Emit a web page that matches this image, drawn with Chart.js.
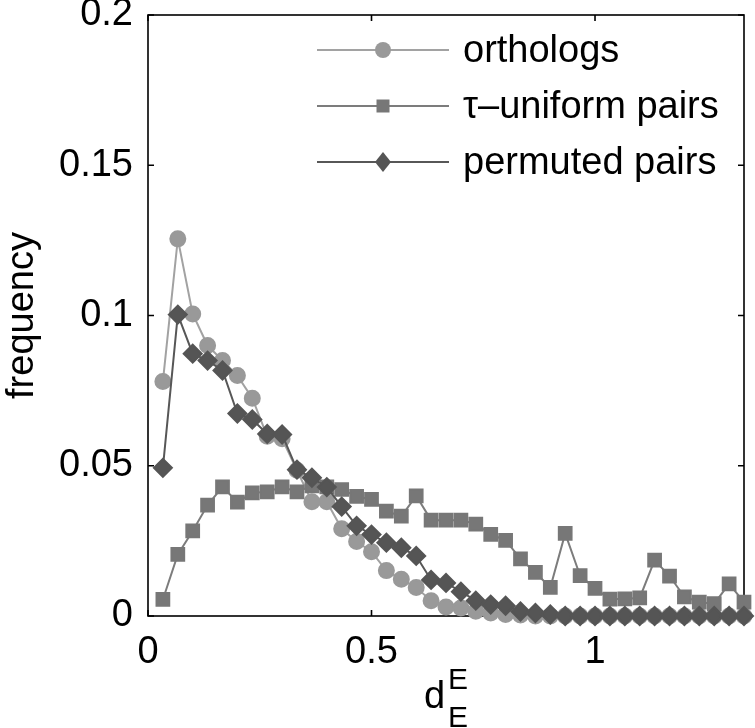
<!DOCTYPE html>
<html>
<head>
<meta charset="utf-8">
<script src="https://cdn.jsdelivr.net/npm/chart.js@4.4.1/dist/chart.umd.min.js"></script>
<style>
  html, body { margin: 0; padding: 0; background: #fff; }
  #wrap { width: 755px; height: 728px; }
</style>
</head>
<body>
<div id="wrap"><canvas id="distChart" width="755" height="728"></canvas></div>
<script>
// bin centres of d_E^E histogram
var binCenters = [0.0333, 0.0667, 0.1, 0.1333, 0.1667, 0.2, 0.2333, 0.2667, 0.3, 0.3333,
    0.3667, 0.4, 0.4333, 0.4667, 0.5, 0.5333, 0.5667, 0.6, 0.6333, 0.6667,
    0.7, 0.7333, 0.7667, 0.8, 0.8333, 0.8667, 0.9, 0.9333, 0.9667, 1.0,
    1.0333, 1.0667, 1.1, 1.1333, 1.1667, 1.2, 1.2333, 1.2667, 1.3, 1.3333];

var orthologs = [0.078, 0.1255, 0.1005, 0.090, 0.085, 0.080, 0.0725, 0.0598, 0.059, 0.0485,
    0.038, 0.038, 0.029, 0.0248, 0.0214, 0.0151, 0.0122, 0.0095, 0.0051, 0.003,
    0.0027, 0.0016, 0.001, 0.0005, 0.0003, 0, 0, 0, 0, 0,
    0, 0, 0, 0, 0, 0, 0, 0, 0, 0];

var tauUniform = [0.0055, 0.0205, 0.0283, 0.0369, 0.043, 0.0379, 0.041, 0.0413, 0.043, 0.0413,
    0.0433, 0.043, 0.0421, 0.0398, 0.0388, 0.0349, 0.0332, 0.040, 0.0319, 0.0319,
    0.0319, 0.0306, 0.0272, 0.0252, 0.019, 0.0145, 0.0095, 0.0275, 0.0134, 0.0092,
    0.0056, 0.0057, 0.006, 0.0186, 0.0133, 0.0064, 0.0046, 0.0041, 0.0107, 0.0046];

var permuted = [0.0493, 0.1003, 0.0873, 0.085, 0.0817, 0.0674, 0.0654, 0.0606, 0.0604, 0.0487,
    0.046, 0.0429, 0.0364, 0.030, 0.0271, 0.0244, 0.0227, 0.020, 0.012, 0.011,
    0.0081, 0.0051, 0.0038, 0.0034, 0.0015, 0.001, 0.0005, 0, 0, 0,
    0, 0, 0, 0, 0, 0, 0, 0, 0, 0];

var seriesNames = ["orthologs", "\u03c4\u2013uniform pairs", "permuted pairs"];
var xTicks = [0, 0.5, 1];
var yTicks = [0, 0.05, 0.1, 0.15, 0.2];

var FONT = "'Liberation Sans', Arial, Helvetica, sans-serif";

function pts(vals) {
    return vals.map(function (v, i) { return { x: binCenters[i], y: v }; });
}

// box, inward ticks on all four sides (matlab look)
var axesBox = {
    id: 'axesBox',
    beforeDatasetsDraw: function (chart) {
        var ctx = chart.ctx, a = chart.chartArea;
        var xs = chart.scales.x, ys = chart.scales.y;
        ctx.save();
        ctx.strokeStyle = '#000';
        ctx.lineWidth = 1.6;
        ctx.strokeRect(a.left, a.top, a.right - a.left, a.bottom - a.top);
        ctx.beginPath();
        xTicks.forEach(function (v) {
            var px = xs.getPixelForValue(v);
            ctx.moveTo(px, a.bottom); ctx.lineTo(px, a.bottom - 6);
            ctx.moveTo(px, a.top); ctx.lineTo(px, a.top + 6);
        });
        yTicks.forEach(function (v) {
            var py = ys.getPixelForValue(v);
            ctx.moveTo(a.left, py); ctx.lineTo(a.left + 6, py);
            ctx.moveTo(a.right, py); ctx.lineTo(a.right - 6, py);
        });
        ctx.stroke();
        ctx.restore();
    },
    afterDraw: function (chart) {
        var ctx = chart.ctx, a = chart.chartArea;
        ctx.save();
        // legend, inside the axes, no frame
        chart.data.datasets.forEach(function (ds, i) {
            var y = a.top + 35 + i * 56;
            var x0 = a.left + 169, x1 = a.left + 301, mx = a.left + 235;
            ctx.strokeStyle = ds.borderColor;
            ctx.lineWidth = ds.borderWidth;
            ctx.beginPath(); ctx.moveTo(x0, y); ctx.lineTo(x1, y); ctx.stroke();
            ctx.fillStyle = ds.pointBackgroundColor;
            ctx.beginPath();
            if (ds.pointStyle === 'circle') {
                ctx.arc(mx, y, 8, 0, Math.PI * 2);
            } else if (ds.pointStyle === 'rect') {
                ctx.rect(mx - 6.5, y - 6.5, 13, 13);
            } else {
                ctx.moveTo(mx, y - 10); ctx.lineTo(mx + 8, y);
                ctx.lineTo(mx, y + 10); ctx.lineTo(mx - 8, y);
                ctx.closePath();
            }
            ctx.fill();
            ctx.fillStyle = '#000';
            ctx.font = '38px ' + FONT;
            ctx.textAlign = 'left';
            ctx.textBaseline = 'middle';
            ctx.fillText(ds.label, a.left + 315, y + 2);
        });
        // x axis title d_E^E
        ctx.fillStyle = '#000';
        ctx.textAlign = 'left';
        ctx.textBaseline = 'alphabetic';
        ctx.font = '38px ' + FONT;
        ctx.fillText('d', 424, 708);
        ctx.font = '30px ' + FONT;
        ctx.fillText('E', 448, 689);
        ctx.fillText('E', 448, 727);
        ctx.restore();
    }
};

new Chart(document.getElementById("distChart"), {
    type: "line",
    data: {
        datasets: [{
            label: seriesNames[0],
            data: pts(orthologs),
            borderColor: "#a2a2a2",
            backgroundColor: "#999999",
            pointBackgroundColor: "#999999",
            pointBorderColor: "#999999",
            pointStyle: "circle",
            pointRadius: 7.5,
            borderWidth: 2,
            order: 2,
            clip: false
        }, {
            label: seriesNames[1],
            data: pts(tauUniform),
            borderColor: "#7c7c7c",
            backgroundColor: "#777777",
            pointBackgroundColor: "#777777",
            pointBorderColor: "#777777",
            pointStyle: "rect",
            pointRadius: 9,
            borderWidth: 2,
            order: 1,
            clip: false
        }, {
            label: seriesNames[2],
            data: pts(permuted),
            borderColor: "#575757",
            backgroundColor: "#555555",
            pointBackgroundColor: "#555555",
            pointBorderColor: "#555555",
            pointStyle: "rectRot",
            pointRadius: 9,
            borderWidth: 2,
            order: 0,
            clip: false
        }]
    },
    options: {
        responsive: false,
        animation: false,
        elements: { line: { tension: 0 }, point: { borderWidth: 1 } },
        layout: { padding: { top: 15, right: 8, left: 0, bottom: 0 } },
        plugins: { legend: { display: false }, tooltip: { enabled: false } },
        scales: {
            x: {
                type: "linear",
                min: 0,
                max: 1.3333,
                grid: { display: false, drawTicks: false },
                border: { display: false },
                afterBuildTicks: function (s) { s.ticks = xTicks.map(function (v) { return { value: v }; }); },
                afterFit: function (s) { s.height = 112; s.paddingLeft = 0; s.paddingRight = 0; },
                ticks: {
                    padding: 14,
                    color: "#000",
                    maxRotation: 0,
                    font: { family: FONT, size: 38 },
                    callback: function (v) { return String(v); }
                }
            },
            y: {
                min: 0,
                max: 0.2,
                grid: { display: false, drawTicks: false },
                border: { display: false },
                afterBuildTicks: function (s) { s.ticks = yTicks.map(function (v) { return { value: v }; }); },
                afterFit: function (s) { s.width = 148; s.paddingTop = 0; s.paddingBottom = 0; },
                title: {
                    display: true,
                    text: "frequency",
                    color: "#000",
                    padding: 0,
                    font: { family: FONT, size: 38 }
                },
                ticks: {
                    padding: 15,
                    color: "#000",
                    font: { family: FONT, size: 38 },
                    callback: function (v) { return String(v); }
                }
            }
        }
    },
    plugins: [axesBox]
});
</script>
</body>
</html>
